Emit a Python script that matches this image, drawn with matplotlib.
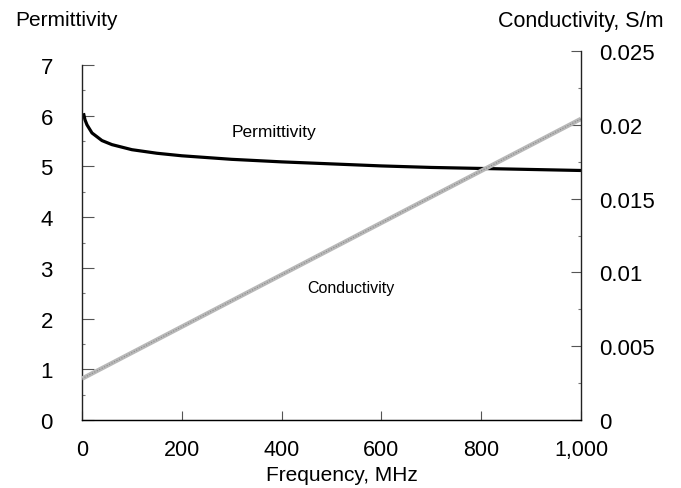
import matplotlib
matplotlib.use("Agg")
import matplotlib.pyplot as plt
from matplotlib.ticker import FuncFormatter, MultipleLocator

plt.rcParams['font.family'] = ['Liberation Sans', 'DejaVu Sans']

# permittivity curve
freq_perm = [3, 6, 10, 20, 40, 60, 80, 100, 150, 200, 300, 400, 500, 600, 700, 800, 900, 1000]
permittivity = [6.05, 5.92, 5.82, 5.66, 5.51, 5.43, 5.38, 5.33, 5.26, 5.21, 5.14, 5.09,
                5.05, 5.01, 4.98, 4.96, 4.94, 4.92]

# conductivity is a straight line
freq_cond = [0, 1000]
conductivity = [0.0028, 0.0204]

x_ticks = [0, 200, 400, 600, 800, 1000]
left_ticks = [0, 1, 2, 3, 4, 5, 6, 7]
right_ticks = [0, 0.005, 0.01, 0.015, 0.02, 0.025]

W, H = 681, 489
fig = plt.figure(figsize=(W / 100, H / 100), dpi=100)
ax = fig.add_axes([82 / W, 1 - 421 / H, (581 - 82) / W, (421 - 52) / H])
ax2 = ax.twinx()

ax.plot(freq_perm, permittivity, color='black', lw=2.3, solid_capstyle='butt')
ax2.plot(freq_cond, conductivity, color='#b8b8b8', lw=3.2, solid_capstyle='butt')
ax2.plot(freq_cond, conductivity, color='#8a8a8a', lw=0.8, ls=(0, (1, 1.5)))

ax.set_xlim(0, 1000)
ax.set_ylim(0, 7 * 369 / 355)
ax2.set_ylim(0, 0.025)

for a in (ax, ax2):
    a.spines['top'].set_visible(False)
ax.spines['left'].set_bounds(0, 7)
ax.spines['right'].set_visible(False)
ax2.spines['left'].set_visible(False)
for s in ('left', 'bottom'):
    ax.spines[s].set_linewidth(1.0)
    ax.spines[s].set_color('#222222')
ax2.spines['right'].set_linewidth(1.0)
ax2.spines['right'].set_color('#222222')

ax.set_xticks(x_ticks)
ax.xaxis.set_major_formatter(FuncFormatter(lambda v, p: '{:,.0f}'.format(v)))
ax.set_yticks(left_ticks)
ax.yaxis.set_minor_locator(MultipleLocator(0.5))
ax2.set_yticks(right_ticks)
ax2.yaxis.set_major_formatter(FuncFormatter(lambda v, p: '%g' % v))
ax2.yaxis.set_minor_locator(MultipleLocator(0.0025))

ax.tick_params(axis='x', direction='in', length=6.5, width=0.8, pad=14, labelsize=15.5, color='#555555')
ax.tick_params(axis='y', which='major', direction='in', length=8.5, width=0.8, pad=21, labelsize=16, color='#555555')
ax.tick_params(axis='y', which='minor', direction='in', length=2, width=0.8, color='#777777')
ax2.tick_params(axis='y', which='major', direction='in', length=7.5, width=0.8, pad=13, labelsize=16, color='#555555')
ax2.tick_params(axis='y', which='minor', direction='in', length=2, width=0.8, color='#777777')

fig.text(15 / W, 1 - 21 / H, 'Permittivity', fontsize=15, ha='left', va='center')
fig.text(663 / W, 1 - 21 / H, 'Conductivity, S/m', fontsize=15.5, ha='right', va='center')
fig.text(342 / W, 1 - 476 / H, 'Frequency, MHz', fontsize=15, ha='center', va='center')

ax.text(274 / W, 1 - 133 / H, 'Permittivity', fontsize=12.5, ha='center', va='center',
        transform=fig.transFigure)
ax.text(351 / W, 1 - 289 / H, 'Conductivity', fontsize=11.5, ha='center', va='center',
        transform=fig.transFigure)

fig.savefig('out.png', dpi=100)
